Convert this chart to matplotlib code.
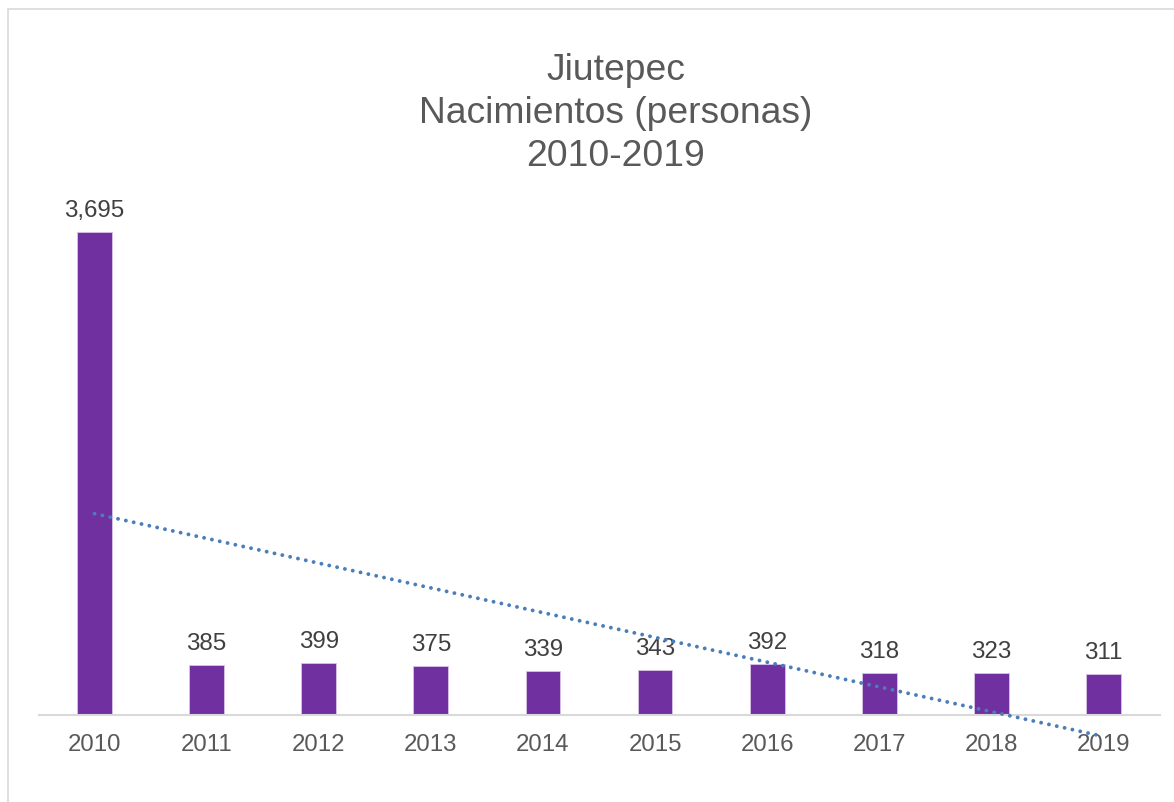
import matplotlib
matplotlib.use("Agg")
import matplotlib.pyplot as plt
import numpy as np
from matplotlib.patches import Rectangle

years = ["2010", "2011", "2012", "2013", "2014", "2015", "2016", "2017", "2018", "2019"]
births = [3695, 385, 399, 375, 339, 343, 392, 318, 323, 311]
title_lines = ["Jiutepec", "Nacimientos (personas)", "2010-2019"]

plt.rcParams['font.family'] = ['Liberation Sans', 'DejaVu Sans']

W, H = 1174, 803
fig = plt.figure(figsize=(W / 100, H / 100), dpi=100)
fig.patch.set_facecolor("white")

# outer chart border (cut off at right/bottom)
fig.patches.append(Rectangle((8 / W, -0.05), 1.2, 1 - 10 / H + 0.05, transform=fig.transFigure,
                             fill=False, edgecolor="#d9d9d9", linewidth=1.2, clip_on=False))

ax = fig.add_axes([38.5 / W, 1 - 716 / H, 1121 / W, (716 - 193) / H])
x = np.arange(len(years))
ax.bar(x, births, width=0.31, color="#7030A0", edgecolor="#d9c3ea", linewidth=0.6, zorder=2)

for xi, v in zip(x, births):
    ax.annotate(f"{v:,}", (xi, v), xytext=(0, 11.5), textcoords="offset points",
                ha="center", va="baseline", fontsize=17.4, color="#404040")

# linear trendline
coef = np.polyfit(x + 1, births, 1)
trend = np.polyval(coef, x + 1)
ax.plot(x, trend, color="#4a7ebb", linewidth=2.8, linestyle=(0, (0.01, 2.05)),
        dash_capstyle="round", solid_capstyle="round", clip_on=False, zorder=3)

ax.set_xlim(-0.5, len(years) - 0.5)
ax.set_ylim(0, 4000)
ax.set_xticks(x)
ax.set_xticklabels(years, fontsize=17.3, color="#595959")
ax.tick_params(axis="x", length=0, pad=13)
ax.set_yticks([])
for s in ["top", "left", "right"]:
    ax.spines[s].set_visible(False)
ax.spines["bottom"].set_color("#d9d9d9")
ax.spines["bottom"].set_linewidth(1.5)
ax.set_facecolor("none")

for line, yb in zip(title_lines, [80, 123, 166]):
    fig.text(616 / W, 1 - yb / H, line, ha="center", va="baseline", fontsize=26.8, color="#595959")

fig.savefig("out.png", dpi=100)
